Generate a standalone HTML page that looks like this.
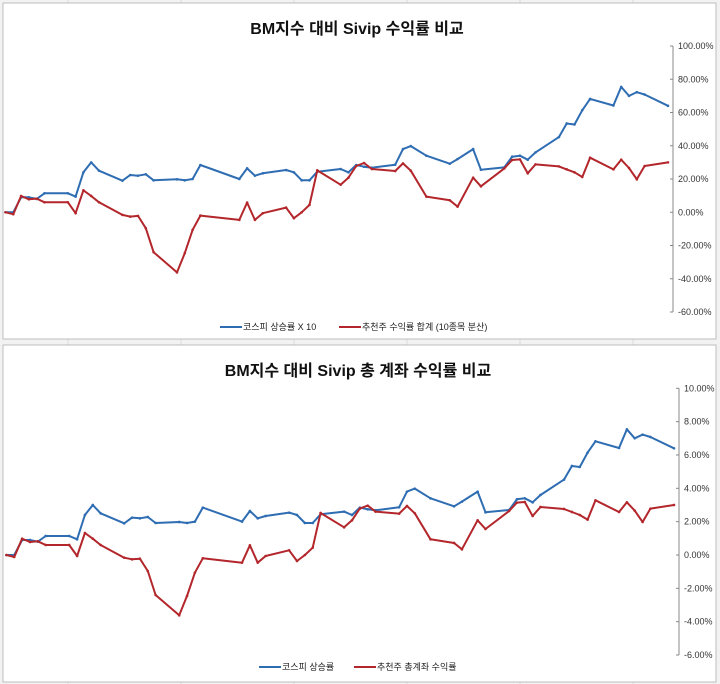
<!DOCTYPE html>
<html><head><meta charset="utf-8">
<style>
html,body{margin:0;padding:0;background:#f2f2f2;width:720px;height:684px;overflow:hidden;font-family:"Liberation Sans","Noto Sans CJK KR",sans-serif;}
svg{position:absolute;left:0;top:0}
</style></head>
<body>
<svg id="svg" width="720" height="684"></svg>
<script>
const days = [0,1,2,3,4,5,8,9,10,11,12,15,16,17,18,19,22,23,24,25,30,31,32,33,36,37,38,39,40,43,44,45,46,47,50,51,52,54,57,58,60,61,64,65,66,67,68,71,72,73,74,75,78,79,80,81,82,85];
const kospiTop = [0,0,9,9,8,11.4,11.4,9.4,24,30,25,19,22.4,22,22.8,19.2,19.8,19.2,20,28.4,20,26.4,22,23.4,25.4,24,19.2,19.2,24.4,26,24,28.4,27.4,26.8,28.6,38,39.8,34,29.2,32,38,25.6,27,33.4,34,31.6,36,45.2,53.4,52.8,61.4,68.2,64.2,75.4,70,72.2,70.8,64];
const picksTop = [0,-1.2,9.8,7.8,8.2,6,6,-0.6,13.2,9.8,6,-1.6,-2.6,-2.2,-9.6,-24,-36.2,-24.6,-10.6,-2,-4.6,5.8,-4.6,-0.6,2.8,-3.6,0,4.4,25.2,16.6,20.8,27.8,29.6,26,24.8,29.4,25,9.4,7.2,3.4,20.8,15.6,26.4,31.4,31.8,23.4,28.8,27.6,25.8,24,21.2,32.8,25.8,31.6,26.6,19.8,27.8,30];
const kospiBot = [0,0,0.9,0.9,0.8,1.14,1.14,0.94,2.4,3.0,2.5,1.9,2.24,2.2,2.28,1.92,1.98,1.92,2.0,2.84,2.0,2.64,2.2,2.34,2.54,2.4,1.92,1.92,2.44,2.6,2.4,2.84,2.74,2.68,2.86,3.8,3.98,3.4,2.92,3.2,3.8,2.56,2.7,3.34,3.4,3.16,3.6,4.52,5.34,5.28,6.14,6.82,6.42,7.54,7.0,7.22,7.08,6.4];
const picksBot = [0,-0.12,0.98,0.78,0.82,0.6,0.6,-0.06,1.32,0.98,0.6,-0.16,-0.26,-0.22,-0.96,-2.4,-3.62,-2.46,-1.06,-0.2,-0.46,0.58,-0.46,-0.06,0.28,-0.36,0,0.44,2.52,1.66,2.08,2.78,2.96,2.6,2.48,2.94,2.5,0.94,0.72,0.34,2.08,1.56,2.64,3.14,3.18,2.34,2.88,2.76,2.58,2.4,2.12,3.28,2.58,3.16,2.66,1.98,2.78,3.0];
const ticksTop = [100,80,60,40,20,0,-20,-40,-60];
const ticksBot = [10,8,6,4,2,0,-2,-4,-6];

const NS="http://www.w3.org/2000/svg";
const svg=document.getElementById('svg');
function mk(tag,attrs,parent){const e=document.createElementNS(NS,tag);for(const k in attrs)e.setAttribute(k,attrs[k]);(parent||svg).appendChild(e);return e;}

// spreadsheet grid background
for(let x=68;x<720;x+=113){const l=mk('line',{x1:x,y1:0,x2:x,y2:684,stroke:'#dadada','stroke-width':1});

}

function chart(cfg){
  const g=mk('g',{});
  
  
  const bg=mk('rect',{x:3,y:cfg.top,width:713,height:cfg.h,fill:'#fff',stroke:'#bdbdbd','stroke-width':1},g);
  
  
  const t=mk('text',{x:cfg.titleX,y:cfg.top+cfg.titleDy,'text-anchor':'middle','font-size':16,'font-weight':'bold',fill:'#111'},g);
  t.textContent=cfg.title;
  
  
  const yMax=cfg.ticks[0],yMin=cfg.ticks[cfg.ticks.length-1];
  const yS=v=>cfg.yTop+(yMax-v)/(yMax-yMin)*(cfg.yBot-cfg.yTop);
  const xS=d=>cfg.x0+(d-days[0])/(days[days.length-1]-days[0])*(cfg.x1-cfg.x0);
  const ax=mk('line',{x1:cfg.axX,y1:yS(yMax),x2:cfg.axX,y2:yS(yMin),stroke:'#888','stroke-width':1},g);
  
  
  cfg.ticks.forEach(v=>{
    const tk=mk('line',{x1:cfg.axX-3,y1:yS(v),x2:cfg.axX,y2:yS(v),stroke:'#888'},g);
    
    
    const tl=mk('text',{x:cfg.axX+5,y:yS(v)+3,'font-size':9,fill:'#333'},g);
    tl.textContent=v.toFixed(2)+'%';
    
    
  });
  [[cfg.blue,'#2f6db3','kospi-line'],[cfg.red,'#b3262b','picks-line']].forEach(([arr,col,nm])=>{
    const pts=arr.map((v,i)=>xS(days[i]).toFixed(1)+','+yS(v).toFixed(1)).join(' ');
    const pl=mk('polyline',{points:pts,fill:'none',stroke:col,'stroke-width':2,'stroke-linejoin':'round'},g);
    
    
    arr.forEach((v,i)=>{const c=mk('circle',{cx:xS(days[i]),cy:yS(v),r:1.3,fill:col},g);
      
      });
  });
  cfg.legend.forEach(([lx,col,txt])=>{
    const lg=mk('g',{},g);
    
    
    mk('line',{x1:lx,y1:cfg.legY-3,x2:lx+22,y2:cfg.legY-3,stroke:col,'stroke-width':2},lg);
    const tx=mk('text',{x:lx+23,y:cfg.legY,'font-size':9,fill:'#222'},lg);tx.textContent=txt;
  });
}
chart({name:'chart-top',top:3,h:336,title:'BM지수 대비 Sivip 수익률 비교',titleX:357,titleDy:31,
  yTop:46,yBot:312,ticks:ticksTop,axX:673,x0:5.5,x1:668,blue:kospiTop,red:picksTop,legY:330,
  legend:[[220,'#2f6db3','코스피 상승률 X 10'],[339,'#b3262b','추천주 수익률 합계 (10종목 분산)']]});
chart({name:'chart-bottom',top:345,h:337,title:'BM지수 대비 Sivip 총 계좌 수익률 비교',titleX:358,titleDy:31,
  yTop:388.3,yBot:655,ticks:ticksBot,axX:679,x0:6.4,x1:674,blue:kospiBot,red:picksBot,legY:670,
  legend:[[259,'#2f6db3','코스피 상승률'],[354,'#b3262b','추천주 총계좌 수익률']]});
</script>
</body></html>
